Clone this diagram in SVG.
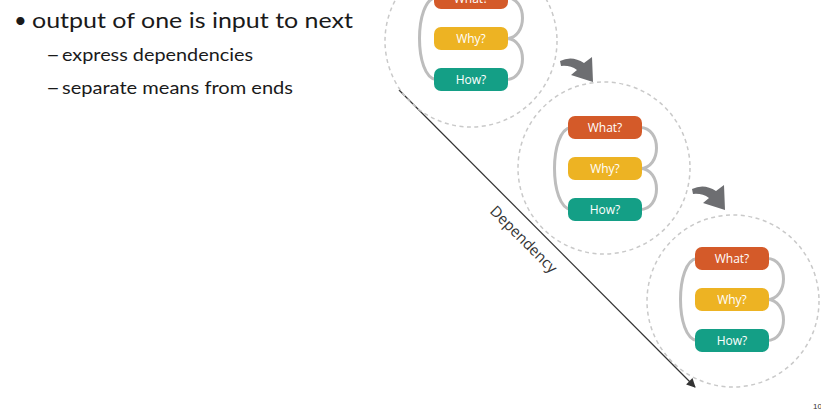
<svg xmlns="http://www.w3.org/2000/svg" width="821" height="413" viewBox="0 0 821 413">
<style>
.body{font-family:Lato,"Open Sans","Liberation Sans",sans-serif;fill:#1a1a1a}
.ring{fill:none;stroke:#c9c9c9;stroke-width:1.5;stroke-dasharray:4 3.5}
.loop{fill:none;stroke:#bdbdbd;stroke-width:3}
.lbl{font-family:"Open Sans","Liberation Sans",sans-serif;font-size:12px;fill:#fff;text-anchor:middle}
.what{fill:#d45a29}
.why{fill:#edb323}
.how{fill:#149f86}
.bend{fill:#6d6e71}
</style>
<defs>
<marker id="ah" viewBox="0 0 10 10" refX="9" refY="5" markerWidth="11" markerHeight="9" markerUnits="userSpaceOnUse" orient="auto">
<path d="M0,0 L10,5 L0,10 Z" fill="#333"/>
</marker>
</defs>
<rect width="821" height="413" fill="#fff"/>
<g id="bullets">
<text class="body" x="14" y="28" font-size="22">•</text>
<text class="body" x="32" y="28" font-size="22" textLength="321" lengthAdjust="spacingAndGlyphs">output of one is input to next</text>
<text class="body" x="46" y="61" font-size="18" textLength="14" lengthAdjust="spacingAndGlyphs">–</text>
<text class="body" x="62" y="61" font-size="18" textLength="191" lengthAdjust="spacingAndGlyphs">express dependencies</text>
<text class="body" x="46" y="94" font-size="18" textLength="14" lengthAdjust="spacingAndGlyphs">–</text>
<text class="body" x="62" y="94" font-size="18" textLength="231" lengthAdjust="spacingAndGlyphs">separate means from ends</text>
</g>
<g id="connectors">
<line x1="399" y1="90" x2="695" y2="387" stroke="#333" stroke-width="1.2" marker-end="url(#ah)"/>
<text transform="translate(520,243) rotate(45)" x="0" y="0" font-family="'Open Sans','Liberation Sans',sans-serif" font-size="15" fill="#333" text-anchor="middle">Dependency</text>
<path class="bend" d="M560,61 Q572,55 584,63 L592,57 L593,82 L571,75 L577,70 Q570,65 561,66 Z"/>
<path class="bend" d="M692,189 Q704,183 716,191 L724,185 L725,210 L703,203 L709,198 Q702,193 693,194 Z"/>
</g>
<g id="step1">
<circle class="ring" cx="471" cy="41" r="86"/>
<path class="loop" d="M436,-2.5 C414,0 414,77 436,79.5"/>
<path class="loop" d="M506,-2.5 C528,-2.5 528,38.5 506,38.5 C528,38.5 528,79.5 506,79.5"/>
<rect class="what" x="434" y="-14" width="74" height="23" rx="7"/>
<text class="lbl" x="471" y="3">What?</text>
<rect class="why" x="434" y="27" width="74" height="23" rx="7"/>
<text class="lbl" x="471" y="43">Why?</text>
<rect class="how" x="434" y="68" width="74" height="23" rx="7"/>
<text class="lbl" x="471" y="84">How?</text>
</g>
<g id="step2">
<circle class="ring" cx="604" cy="168" r="86"/>
<path class="loop" d="M571,127.5 C549,130 549,207 571,209.5"/>
<path class="loop" d="M640,127.5 C662,127.5 662,168.5 640,168.5 C662,168.5 662,209.5 640,209.5"/>
<rect class="what" x="568" y="116" width="74" height="23" rx="7"/>
<text class="lbl" x="605" y="132">What?</text>
<rect class="why" x="568" y="157" width="74" height="23" rx="7"/>
<text class="lbl" x="605" y="173">Why?</text>
<rect class="how" x="568" y="198" width="74" height="23" rx="7"/>
<text class="lbl" x="605" y="214">How?</text>
</g>
<g id="step3">
<circle class="ring" cx="733" cy="301" r="86"/>
<path class="loop" d="M697,258.5 C675,261 675,338 697,340.5"/>
<path class="loop" d="M767,258.5 C789,258.5 789,299.5 767,299.5 C789,299.5 789,340.5 767,340.5"/>
<rect class="what" x="695" y="247" width="74" height="23" rx="7"/>
<text class="lbl" x="732" y="263">What?</text>
<rect class="why" x="695" y="288" width="74" height="23" rx="7"/>
<text class="lbl" x="732" y="304">Why?</text>
<rect class="how" x="695" y="329" width="74" height="23" rx="7"/>
<text class="lbl" x="732" y="345">How?</text>
</g>
<text x="813" y="409" font-family="'Liberation Sans',sans-serif" font-size="8" fill="#333">10</text>
</svg>
